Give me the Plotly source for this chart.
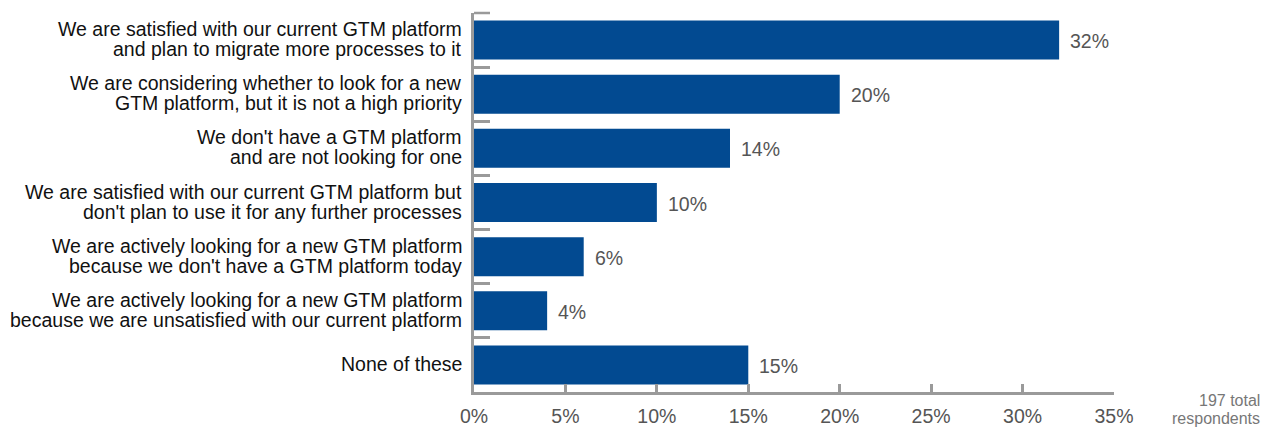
import plotly.graph_objects as go

categories = [
    "We are satisfied with our current GTM platform<br>and plan to migrate more processes to it",
    "We are considering whether to look for a new<br>GTM platform, but it is not a high priority",
    "We don't have a GTM platform<br>and are not looking for one",
    "We are satisfied with our current GTM platform but<br>don't plan to use it for any further processes",
    "We are actively looking for a new GTM platform<br>because we don't have a GTM platform today",
    "We are actively looking for a new GTM platform<br>because we are unsatisfied with our current platform",
    "None of these",
]
values = [32, 20, 14, 10, 6, 4, 15]
tick_vals = [0, 5, 10, 15, 20, 25, 30, 35]
tick_text = ["0%", "5%", "10%", "15%", "20%", "25%", "30%", "35%"]
note_lines = ["197 total", "respondents"]

FONT = "Liberation Sans, Arial, Helvetica, sans-serif"
AXIS = "#9a9a9a"
W, H = 1273, 427
ML, MR, MT, MB = 474, 159, 13, 35
PW, PH = W - ML - MR, H - MT - MB

fig = go.Figure()
fig.add_trace(go.Bar(
    x=values, y=categories, orientation="h",
    marker=dict(color="#024a91", line=dict(width=0)),
    hoverinfo="skip",
))

# value labels
for c, v in zip(categories, values):
    fig.add_annotation(x=v, y=c, text=f"{v}%", showarrow=False,
                       xanchor="left", xshift=9, yshift=-1,
                       font=dict(family=FONT, size=19.5, color="#555555"))

# category labels (tight line spacing)
for c in categories:
    lines = c.split("<br>")
    n = len(lines)
    for i, ln in enumerate(lines):
        off = (n - 1) / 2 - i
        fig.add_annotation(x=0, xref="paper", y=c, yref="y", text=ln, showarrow=False,
                           xanchor="right", yanchor="middle", xshift=-10,
                           yshift=off * 20 + 1,
                           font=dict(family=FONT, size=19.5, color="#111111"))

# respondents note
for i, ln in enumerate(note_lines):
    fig.add_annotation(x=(1262 - ML) / PW, xref="paper",
                       y=(H - MB - (400 + 18 * i)) / PH, yref="paper",
                       text=ln, showarrow=False, xanchor="right", yanchor="middle",
                       font=dict(family=FONT, size=16, color="#777777"))

# top boundary tick on the category axis
fig.add_shape(type="line", xref="paper", yref="paper", x0=0, x1=16 / PW, y0=1, y1=1,
              line=dict(color=AXIS, width=2.5))

fig.update_layout(
    width=W, height=H,
    margin=dict(l=ML, r=MR, t=MT, b=MB, autoexpand=False),
    paper_bgcolor="white", plot_bgcolor="white",
    bargap=0.28,
    showlegend=False,
    font=dict(family=FONT),
    xaxis=dict(range=[0, 35], tickvals=tick_vals, ticktext=tick_text,
               automargin=False,
               showgrid=False, zeroline=False,
               showline=True, linecolor=AXIS, linewidth=2.5,
               ticks="inside", ticklen=8, tickwidth=2.5, tickcolor=AXIS,
               ticklabelstandoff=5,
               tickfont=dict(family=FONT, size=19.5, color="#555555")),
    yaxis=dict(autorange="reversed", automargin=False,
               showgrid=False, zeroline=False,
               showline=True, linecolor=AXIS, linewidth=2.5,
               ticks="inside", tickson="boundaries", ticklen=16, tickwidth=2.5, tickcolor=AXIS,
               showticklabels=False),
)

fig.write_html("out.html")
